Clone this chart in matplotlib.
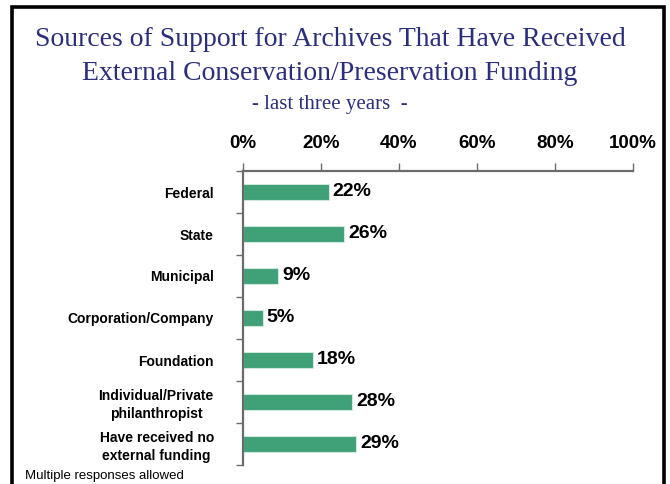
import matplotlib
matplotlib.use("Agg")
import matplotlib.pyplot as plt
from matplotlib.patches import Rectangle

# survey results, share of archives (%)
categories = ["Federal", "State", "Municipal", "Corporation/Company", "Foundation",
              "Individual/Private\nphilanthropist", "Have received no\nexternal funding"]
values = [22, 26, 9, 5, 18, 28, 29]
xticks = [0, 20, 40, 60, 80, 100]
xtick_labels = ["0%", "20%", "40%", "60%", "80%", "100%"]

bar_color = "#40a078"
title_color = "#2b2e7a"
axis_color = "#6b6b6b"

fig = plt.figure(figsize=(6.7, 4.84), dpi=100)
ax = fig.add_axes([243 / 670, 1 - 465 / 484, 390 / 670, 294 / 484])

pos = list(range(len(categories)))
ax.barh(pos, values, height=0.36, color=bar_color, edgecolor="#cfe8dc", linewidth=0.8)
for p, v in zip(pos, values):
    ax.text(v + 1.0, p, f"{v}%", va="center", ha="left", fontsize=14,
            fontweight="bold", family="Liberation Sans")

ax.set_xlim(0, 100)
ax.set_ylim(len(categories) - 0.5, -0.5)
ax.xaxis.tick_top()
ax.set_xticks(xticks)
ax.set_xticklabels(xtick_labels, fontsize=13.5, fontweight="bold", family="Liberation Sans")
ax.tick_params(axis="x", length=6, width=1, color=axis_color, pad=8)

# category labels in the middle, tick marks between them
ax.set_yticks(pos)
ax.set_yticklabels(categories, fontsize=10, fontweight="bold", family="Liberation Sans",
                   multialignment="center", linespacing=1.3)
ax.set_yticks([p + 0.5 for p in [-1] + pos], minor=True)
ax.tick_params(axis="y", which="major", length=0, pad=21)
ax.tick_params(axis="y", which="minor", length=5, width=1, color=axis_color)

for s in ["right", "bottom"]:
    ax.spines[s].set_visible(False)
for s in ["left", "top"]:
    ax.spines[s].set_color(axis_color)
    ax.spines[s].set_linewidth(1.6)

# slide frame, with the line above it cut off at the page edge
fig.patches.append(Rectangle((12 / 670, -0.05), 652 / 670, 1.05 - 7 / 484, fill=False,
                             edgecolor="black", linewidth=2.6, transform=fig.transFigure))
fig.text(20 / 670, 1 + 9 / 484, "Funding and Support in practice", ha="left",
         va="baseline", fontsize=26, family="Liberation Serif", color="black")

fig.text(330 / 670, 1 - 40 / 484, "Sources of Support for Archives That Have Received",
         ha="center", va="center", fontsize=20, family="Liberation Serif", color=title_color)
fig.text(330 / 670, 1 - 74 / 484, "External Conservation/Preservation Funding",
         ha="center", va="center", fontsize=20, family="Liberation Serif", color=title_color)
fig.text(330 / 670, 1 - 104 / 484, "- last three years  -",
         ha="center", va="center", fontsize=15, family="Liberation Serif", color=title_color)
fig.text(25 / 670, 1 - 476 / 484, "Multiple responses allowed", ha="left", va="center",
         fontsize=9.5, family="Liberation Sans")

fig.savefig("out.png", dpi=100)
